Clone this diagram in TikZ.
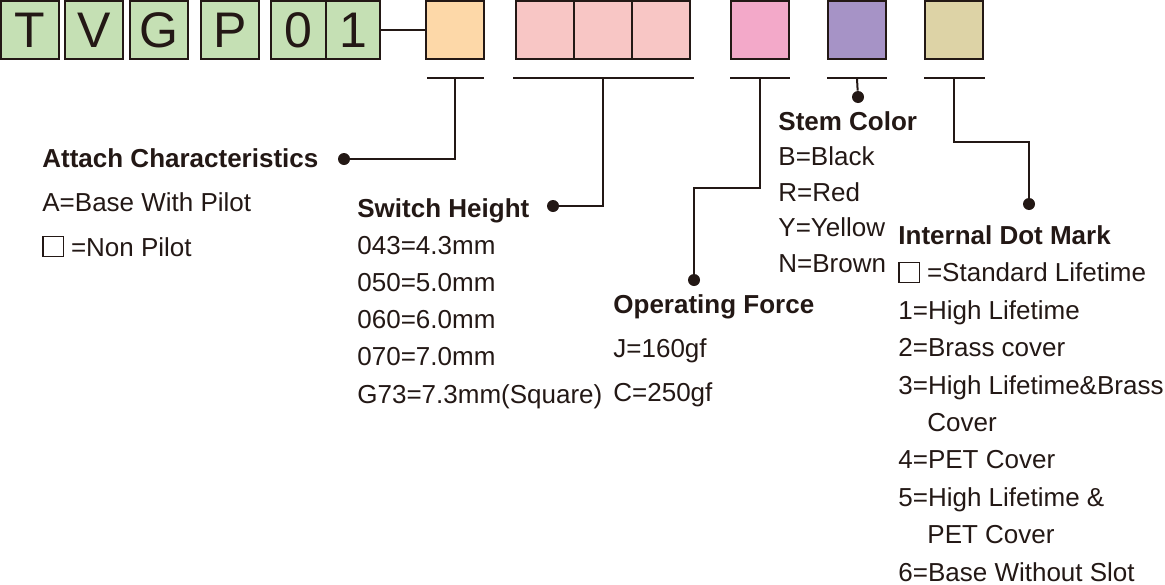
\documentclass[tikz,border=0pt]{standalone}
\usepackage{fontspec}
\setmainfont{Liberation Sans}
\usepackage{xcolor}
\usetikzlibrary{positioning}
\definecolor{codeink}{RGB}{35,24,21}
\definecolor{codegreen}{RGB}{197,224,180}
\definecolor{codeorange}{RGB}{253,216,168}
\definecolor{codepink}{RGB}{248,198,197}
\definecolor{coderose}{RGB}{243,169,201}
\definecolor{codeviolet}{RGB}{166,147,198}
\definecolor{codetan}{RGB}{221,211,166}
\newcommand{\emptysq}{{\setlength{\fboxsep}{0pt}\setlength{\fboxrule}{0.6pt}%
  \fbox{\rule{0pt}{9.5pt}\hspace{9.5pt}}}}

\begin{document}
\begin{tikzpicture}[
  x=0.5pt, y=-0.5pt,
  every node/.style={text=codeink},
  code/.style={rectangle, draw=codeink, line width=1pt, inner sep=0pt,
    outer sep=0pt, minimum width=29pt, minimum height=29pt,
    font=\fontsize{25}{25}\selectfont},
  bar/.style={rectangle, fill=codeink, inner sep=0pt, outer sep=0pt,
    minimum height=1pt},
  dot/.style={circle, fill=codeink, inner sep=0pt, minimum size=6pt},
  link/.style={draw=codeink, line width=1pt},
  desc/.style={anchor=base west, align=left, inner sep=0pt},
]
  \useasboundingbox (0,0) rectangle (1165,584);

  % Code boxes
  \node[code, fill=codegreen] (cT) at (30,30) {T};
  \node[code, fill=codegreen, right=3pt of cT] (cV) {V};
  \node[code, fill=codegreen, right=3.5pt of cV] (cG) {G};
  \node[code, fill=codegreen, right=6.5pt of cG] (cP) {P};
  \node[code, fill=codegreen, minimum width=27.5pt, right=6pt of cP] (c0) {0};
  \node[code, fill=codegreen, minimum width=27pt, right=0pt of c0] (c1) {1};
  \node[code, fill=codeorange, right=23pt of c1] (attach) {};
  \node[code, fill=codepink, right=16pt of attach] (height1) {};
  \node[code, fill=codepink, right=0pt of height1] (height2) {};
  \node[code, fill=codepink, right=0pt of height2] (height3) {};
  \node[code, fill=coderose, right=20.5pt of height3] (force) {};
  \node[code, fill=codeviolet, right=19.5pt of force] (stem) {};
  \node[code, fill=codetan, right=19.5pt of stem] (dotmark) {};

  \draw[link] (c1) -- (attach);

  % Underline bars
  \node[bar, minimum width=28.5pt, below=9pt of attach] (barA) {};
  \node[bar, minimum width=90.5pt, below=9pt of height2] (barB) {};
  \node[bar, minimum width=30pt, below=9pt of force] (barC) {};
  \node[bar, minimum width=30pt, below=9pt of stem] (barD) {};
  \node[bar, minimum width=30.5pt, below=9pt of dotmark] (barE) {};

  % Dots
  \node[dot] (dotA) at (344,159) {};
  \node[dot] (dotB) at (553,206) {};
  \node[dot] (dotC) at (694,280) {};
  \node[dot] (dotD) at (858,97) {};
  \node[dot] (dotE) at (1029,204) {};

  % Leader lines
  \draw[link] (barA.south) |- (dotA);
  \draw[link] (barB.south) |- (dotB);
  \draw[link] (barC.south) -- ++(0,109) -| (dotC);
  \draw[link] (barD.south) -- (dotD);
  \draw[link] (barE.south) -- ++(0,63) -| (dotE);

  % Descriptions (anchored at the baseline of the last line)
  \node[desc, font=\fontsize{13}{22.25}\selectfont] (attachtxt) at (42,256)
    {\textbf{Attach Characteristics}\\A=Base With Pilot\\\emptysq\ =Non Pilot};
  \node[desc, font=\fontsize{13}{18.6}\selectfont] (heighttxt) at (357,403)
    {\textbf{Switch Height}\\043=4.3mm\\050=5.0mm\\060=6.0mm\\070=7.0mm\\G73=7.3mm(Square)};
  \node[desc, font=\fontsize{13}{22}\selectfont] (forcetxt) at (613,401)
    {\textbf{Operating Force}\\J=160gf\\C=250gf};
  \node[desc, font=\fontsize{13}{17.75}\selectfont] (stemtxt) at (778,272)
    {\textbf{Stem Color}\\B=Black\\R=Red\\Y=Yellow\\N=Brown};
  \node[desc, font=\fontsize{13}{18.7}\selectfont] (dotmarktxt) at (898,581)
    {\textbf{Internal Dot Mark}\\\emptysq\ =Standard Lifetime\\1=High Lifetime\\
     2=Brass cover\\3=High Lifetime\&Brass\\\hspace*{14.5pt}Cover\\4=PET Cover\\
     5=High Lifetime \&\\\hspace*{14.5pt}PET Cover\\6=Base Without Slot};
\end{tikzpicture}
\end{document}
